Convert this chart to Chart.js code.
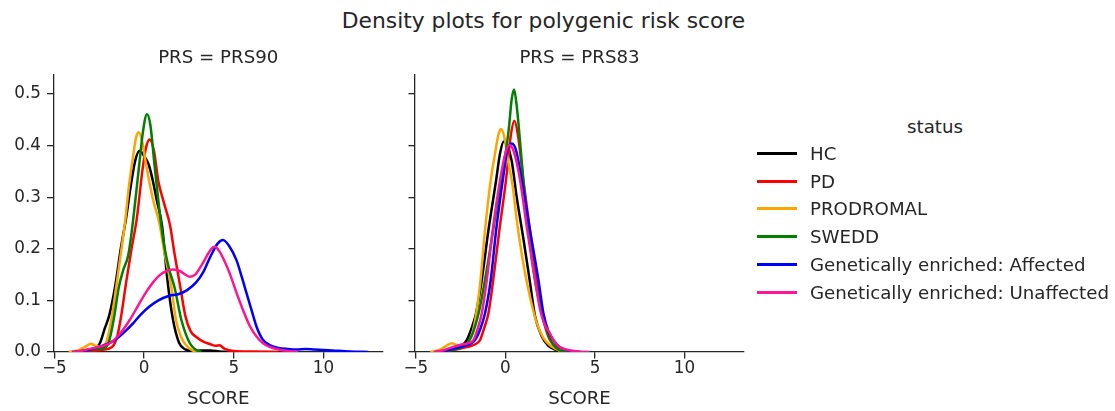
<!DOCTYPE html>
<html><head><meta charset="utf-8">
<script src="https://cdn.jsdelivr.net/npm/chart.js@4.4.1/dist/chart.umd.min.js"></script>
<style>
html,body{margin:0;padding:0;background:#fff;}
body{width:1115px;height:411px;position:relative;overflow:hidden;font-family:"DejaVu Sans",sans-serif;color:#262626;}
canvas{position:absolute;top:0;}
#cA{left:0;}
#cB{left:400px;}
#suptitle{position:absolute;left:0;width:1087px;top:7.5px;text-align:center;font-size:21.8px;line-height:26px;white-space:nowrap;}
#legend .ttl{position:absolute;left:835px;width:200px;text-align:center;font-size:18.2px;line-height:24px;}
#legend .row{position:absolute;left:0;height:24px;font-size:18.2px;line-height:24px;white-space:nowrap;}
#legend .ln{position:absolute;left:757px;width:40px;height:2.4px;top:10.3px;}
#legend .tx{position:absolute;left:810px;top:0;}
</style>
</head><body>
<div id="suptitle">Density plots for polygenic risk score</div>
<canvas id="cA" width="400" height="411"></canvas>
<canvas id="cB" width="360" height="411"></canvas>
<div id="legend"></div>
<script>
const chartTitle = "Density plots for polygenic risk score";
const legendTitle = "status";
const statuses = ["HC","PD","PRODROMAL","SWEDD","Genetically enriched: Affected","Genetically enriched: Unaffected"];
const colors = ["#000000","#ff0000","#ffa500","#008000","#0000ff","#ff1493"];
const panels = ["PRS = PRS90","PRS = PRS83"];
const xLabel = "SCORE";
const xTicks = [-5,0,5,10];
const yTicks = [0,0.1,0.2,0.3,0.4,0.5];

// PRS90 panel: [SCORE, density]
const prs90_HC = [[-4.1,0],[-3.5,0.002],[-3.0,0.005],[-2.7,0.008],[-2.45,0.018],[-2.2,0.045],[-1.95,0.07],[-1.6,0.13],[-1.3,0.2],[-1.0,0.26],[-0.75,0.32],[-0.5,0.37],[-0.25,0.39],[0.0,0.38],[0.27,0.362],[0.5,0.33],[0.7,0.295],[1.0,0.245],[1.3,0.14],[1.6,0.065],[1.95,0.018],[2.3,0.005],[2.7,0.002],[3.2,0.003],[3.7,0.003],[4.2,0.001],[4.6,0]];
const prs90_PD = [[-3.6,0],[-3.0,0.002],[-2.4,0.004],[-2.0,0.006],[-1.7,0.013],[-1.5,0.03],[-1.3,0.065],[-1.0,0.135],[-0.7,0.2],[-0.4,0.26],[-0.1,0.35],[0.1,0.395],[0.31,0.412],[0.55,0.39],[0.8,0.33],[1.1,0.29],[1.45,0.245],[1.7,0.19],[2.0,0.13],[2.3,0.07],[2.6,0.04],[2.95,0.028],[3.3,0.02],[3.7,0.015],[4.0,0.012],[4.2,0.013],[4.5,0.006],[5.0,0.002],[6.0,0.001],[7.5,0]];
const prs90_PRODROMAL = [[-4.2,0],[-3.7,0.003],[-3.3,0.01],[-2.95,0.016],[-2.7,0.012],[-2.4,0.01],[-2.1,0.02],[-1.83,0.062],[-1.55,0.127],[-1.3,0.19],[-1.05,0.255],[-0.85,0.32],[-0.65,0.37],[-0.45,0.415],[-0.3,0.426],[-0.12,0.41],[0.13,0.36],[0.5,0.295],[0.85,0.25],[1.15,0.19],[1.5,0.13],[1.78,0.062],[2.05,0.03],[2.3,0.015],[2.7,0.003],[3.1,0]];
const prs90_SWEDD = [[-3.8,0],[-3.2,0.003],[-2.7,0.006],[-2.2,0.008],[-1.96,0.02],[-1.7,0.062],[-1.4,0.127],[-1.15,0.16],[-0.9,0.185],[-0.7,0.23],[-0.5,0.29],[-0.28,0.36],[-0.05,0.43],[0.16,0.461],[0.35,0.44],[0.59,0.36],[0.96,0.245],[1.15,0.2],[1.4,0.16],[1.7,0.125],[2.08,0.062],[2.55,0.017],[2.9,0.004],[3.2,0]];
const prs90_Affected = [[-4.0,0],[-3.5,0.002],[-3.0,0.005],[-2.5,0.01],[-2.0,0.016],[-1.55,0.025],[-1.0,0.042],[-0.6,0.056],[-0.2,0.072],[0.3,0.088],[0.8,0.1],[1.4,0.109],[1.9,0.112],[2.4,0.12],[2.9,0.135],[3.3,0.155],[3.7,0.185],[4.1,0.21],[4.4,0.217],[4.75,0.205],[5.15,0.178],[5.45,0.145],[5.71,0.114],[6.0,0.08],[6.27,0.049],[6.6,0.025],[7.0,0.0135],[7.5,0.008],[8.0,0.006],[8.5,0.005],[9.0,0.006],[9.5,0.005],[10.5,0.003],[11.5,0.001],[12.5,0]];
const prs90_Unaffected = [[-4.0,0],[-3.5,0.002],[-3.04,0.006],[-2.5,0.01],[-1.92,0.017],[-1.4,0.033],[-0.8,0.062],[-0.3,0.092],[0.13,0.117],[0.5,0.135],[0.87,0.149],[1.25,0.157],[1.61,0.16],[2.0,0.157],[2.3,0.15],[2.55,0.146],[2.85,0.15],[3.2,0.168],[3.48,0.185],[3.75,0.2],[3.95,0.204],[4.2,0.195],[4.5,0.175],[4.78,0.152],[5.1,0.12],[5.52,0.081],[5.9,0.05],[6.27,0.03],[6.6,0.018],[7.0,0.01],[7.5,0.005],[8.0,0.002],[8.6,0]];

// PRS83 panel
const prs83_HC = [[-3.8,0],[-3.2,0.004],[-2.7,0.008],[-2.4,0.013],[-2.16,0.023],[-1.9,0.045],[-1.64,0.075],[-1.32,0.14],[-0.95,0.236],[-0.52,0.333],[-0.3,0.385],[-0.1,0.408],[0.1,0.4],[0.35,0.37],[0.63,0.3],[1.0,0.22],[1.37,0.135],[1.65,0.07],[2.03,0.03],[2.4,0.012],[2.9,0.003],[3.5,0]];
const prs83_PD = [[-3.8,0],[-3.2,0.003],[-2.6,0.006],[-2.1,0.01],[-1.75,0.014],[-1.42,0.023],[-1.2,0.045],[-0.95,0.075],[-0.68,0.14],[-0.34,0.236],[0.03,0.333],[0.3,0.42],[0.5,0.448],[0.7,0.42],[1.0,0.333],[1.37,0.236],[1.75,0.14],[2.03,0.075],[2.25,0.045],[2.49,0.023],[2.9,0.008],[3.4,0.002],[4.0,0]];
const prs83_PRODROMAL = [[-4.2,0],[-3.7,0.004],[-3.3,0.012],[-3.0,0.017],[-2.75,0.014],[-2.45,0.012],[-2.2,0.015],[-1.98,0.023],[-1.7,0.06],[-1.42,0.13],[-1.14,0.236],[-0.82,0.333],[-0.58,0.385],[-0.4,0.42],[-0.26,0.432],[-0.05,0.415],[0.11,0.378],[0.41,0.32],[0.63,0.256],[1.0,0.171],[1.37,0.107],[1.75,0.056],[2.12,0.027],[2.6,0.01],[3.0,0.003],[3.5,0]];
const prs83_SWEDD = [[-3.8,0],[-3.2,0.003],[-2.7,0.006],[-2.3,0.012],[-1.9,0.03],[-1.5,0.075],[-1.14,0.14],[-0.85,0.2],[-0.4,0.3],[-0.1,0.36],[0.18,0.43],[0.35,0.49],[0.48,0.509],[0.62,0.48],[0.76,0.43],[1.0,0.333],[1.28,0.236],[1.65,0.14],[2.0,0.08],[2.3,0.043],[2.65,0.015],[3.05,0.003],[3.5,0]];
const prs83_Affected = [[-3.9,0],[-3.3,0.003],[-2.8,0.007],[-2.3,0.012],[-1.95,0.016],[-1.7,0.023],[-1.4,0.045],[-1.14,0.075],[-0.82,0.14],[-0.52,0.236],[-0.15,0.333],[0.1,0.39],[0.35,0.404],[0.6,0.39],[0.91,0.333],[1.37,0.236],[1.84,0.14],[2.12,0.075],[2.4,0.04],[2.68,0.023],[3.0,0.01],[3.5,0.003],[4.2,0]];
const prs83_Unaffected = [[-4.0,0],[-3.4,0.004],[-2.9,0.01],[-2.5,0.014],[-2.1,0.017],[-1.79,0.023],[-1.55,0.045],[-1.32,0.075],[-1.04,0.14],[-0.71,0.236],[-0.3,0.333],[0.0,0.385],[0.22,0.401],[0.5,0.385],[0.82,0.333],[1.22,0.236],[1.65,0.14],[1.95,0.08],[2.21,0.052],[2.45,0.038],[2.68,0.023],[3.0,0.01],[3.5,0.004],[4.0,0.001],[4.7,0]];

const XMIN = -5.05, XMAX = 13.32, YMIN = 0, YMAX = 0.5368;
const TXT = '#262626';
const FAM = "'DejaVu Sans', sans-serif";

function fmtX(v){ return v < 0 ? '\u2212' + Math.abs(v) : String(v); }

function build(canvasId, panelTitle, seriesList, showYLabels, yAxisWidth, rightPad){
  return new Chart(document.getElementById(canvasId), {
    type: 'line',
    data: {
      datasets: seriesList.map((pts, i) => ({
        label: statuses[i],
        data: pts.map(p => ({x: p[0], y: p[1]})),
        borderColor: colors[i],
        backgroundColor: colors[i],
        borderWidth: 2.5,
        pointRadius: 0,
        fill: false,
        cubicInterpolationMode: 'monotone',
        order: seriesList.length - 1 - i
      }))
    },
    options: {
      responsive: false,
      animation: false,
      events: [],
      layout: {padding: {left: 0, right: rightPad, top: 0, bottom: 0}, autoPadding: false},
      plugins: {
        legend: {display: false},
        tooltip: {enabled: false},
        title: {display: true, text: panelTitle, fullSize: false, color: TXT,
                font: {family: FAM, size: 18.2, weight: 'normal'}, padding: {top: 47.3, bottom: 5.9}}
      },
      scales: {
        x: {
          type: 'linear', min: XMIN, max: XMAX,
          afterBuildTicks: s => { s.ticks = xTicks.map(v => ({value: v})); },
          afterFit: s => { s.height = 59; },
          ticks: {padding: 0, color: TXT, font: {family: FAM, size: 16.8}, callback: v => fmtX(v), maxRotation: 0, autoSkip: false},
          grid: {display: true, drawOnChartArea: false, drawTicks: true, tickLength: 6.5, color: TXT, lineWidth: 1.3},
          border: {display: true, color: TXT, width: 1.3},
          title: {display: true, text: xLabel, color: TXT, font: {family: FAM, size: 18.2}, padding: {top: 0, bottom: 0.5}}
        },
        y: {
          type: 'linear', min: YMIN, max: YMAX,
          afterBuildTicks: s => { s.ticks = yTicks.map(v => ({value: v})); },
          afterFit: s => { s.width = yAxisWidth; },
          ticks: {padding: 6, color: TXT, font: {family: FAM, size: 16.8}, callback: v => showYLabels ? Number(v).toFixed(1) : ''},
          grid: {display: true, drawOnChartArea: false, drawTicks: true, tickLength: 6.5, color: TXT, lineWidth: 1.3},
          border: {display: true, color: TXT, width: 1.3}
        }
      }
    }
  });
}

build('cA', panels[0], [prs90_HC, prs90_PD, prs90_PRODROMAL, prs90_SWEDD, prs90_Affected, prs90_Unaffected], true, 53.5, 17);
build('cB', panels[1], [prs83_HC, prs83_PD, prs83_PRODROMAL, prs83_SWEDD, prs83_Affected, prs83_Unaffected], false, 15, 16);

// legend (HTML text)
document.getElementById('suptitle').textContent = chartTitle;
const leg = document.getElementById('legend');
const t = document.createElement('div');
t.className = 'ttl'; t.style.top = '115px'; t.textContent = legendTitle;
leg.appendChild(t);
statuses.forEach((s, i) => {
  const row = document.createElement('div');
  row.className = 'row';
  row.style.top = Math.round(153.3 + i * 27.8 - 11.6) + 'px';
  const ln = document.createElement('div'); ln.className = 'ln'; ln.style.background = colors[i];
  const tx = document.createElement('div'); tx.className = 'tx'; tx.textContent = s;
  row.appendChild(ln); row.appendChild(tx);
  leg.appendChild(row);
});
</script>
</body></html>
